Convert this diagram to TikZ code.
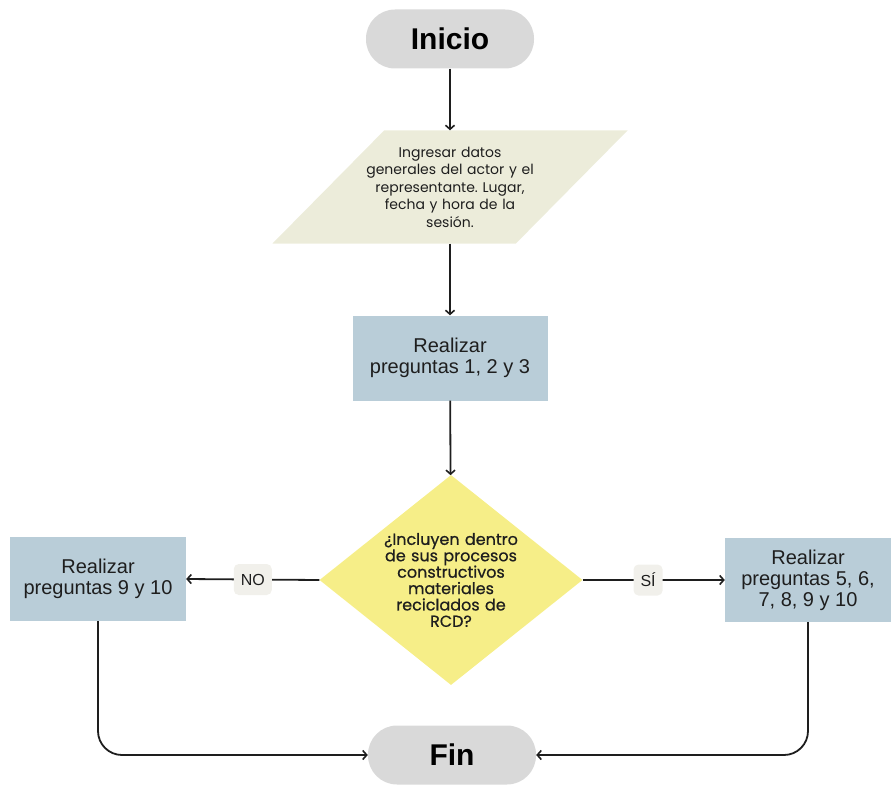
\documentclass[tikz,border=0pt]{standalone}
\usepackage{fontspec}
\setmainfont{Liberation Sans}
\newfontfamily\popfont{Poppins}
\newfontfamily\popbold{Poppins}[FakeBold=0.6]
\usetikzlibrary{shapes.geometric,arrows.meta,calc,backgrounds}
\frenchspacing

\definecolor{pillgray}{HTML}{D9D9D9}
\definecolor{inputbeige}{HTML}{ECECDA}
\definecolor{boxblue}{HTML}{B9CDD8}
\definecolor{decyellow}{HTML}{F6EE88}
\definecolor{tagbg}{HTML}{F1F0EB}
\definecolor{ink}{HTML}{1E1E1E}

\begin{document}
\begin{tikzpicture}[x=1pt,y=-1pt,
  pill/.style={rectangle,rounded corners=29pt,fill=pillgray,
    minimum width=168pt,minimum height=59pt,inner sep=0pt,
    font=\fontsize{30}{30}\selectfont\bfseries,text=black},
  procbox/.style={rectangle,fill=boxblue,align=center,inner sep=0pt,
    font=\fontsize{20}{21}\selectfont,text=ink},
  inputtext/.style={rectangle,align=center,inner sep=0pt,
    minimum width=243pt,minimum height=113pt,text width=210pt,
    font=\popfont\fontsize{14}{17.5}\selectfont,text=ink},
  decision/.style={diamond,fill=decyellow,aspect=1.25,inner sep=0pt,
    minimum width=263pt,minimum height=210pt,text width=140pt,align=center,
    font=\popbold\fontsize{16}{16.4}\selectfont,text=ink},
  link/.style={draw=ink,line width=1.8pt,
    -{Straight Barb[length=4pt,width=9pt,line width=1.6pt]}},
  tag/.style={fill=tagbg,rounded corners=5pt,inner xsep=7pt,
    minimum height=31pt,font=\fontsize{16}{16}\selectfont,text=ink}]

\useasboundingbox (0,0) rectangle (891,784);

% nodes
\node[pill] (inicio) at (450,39) {Inicio};
\node[inputtext] (ingreso) at (450,187)
  {Ingresar datos\\generales del actor y el\\representante. Lugar,\\fecha y hora de la\\sesión.};
\begin{scope}[on background layer]
  \fill[inputbeige] ($(ingreso.north west)+(56,0)$) -- ($(ingreso.north east)+(56,0)$)
    -- ($(ingreso.south east)+(-56,0)$) -- ($(ingreso.south west)+(-56,0)$) -- cycle;
\end{scope}
\node[procbox,minimum width=195pt,minimum height=85pt] (preg13) at (450,358)
  {Realizar\\preguntas 1, 2 y 3};
\node[decision] (pregunta) at (451,580)
  {¿Incluyen dentro\\de sus procesos\\constructivos\\materiales\\reciclados de\\RCD?};
\node[procbox,minimum width=176pt,minimum height=84pt] (izq) at (98,579)
  {Realizar\\preguntas 9 y 10};
\node[procbox,minimum width=166pt,minimum height=84pt] (der) at (808,580)
  {Realizar\\preguntas 5, 6,\\7, 8, 9 y 10};
\node[pill] (fin) at (452,755) {Fin};

% connectors
\draw[link] (inicio) -- (ingreso);
\draw[link] (ingreso) -- (preg13);
\draw[link] (preg13) -- (pregunta);
\draw[link] (pregunta.west) -- node[tag]{NO} (izq.east);
\draw[link] (pregunta.east) -- node[tag,pos=0.46]{SÍ} (der.west);
\draw[link,rounded corners=24pt] (izq.south) |- (fin.west);
\draw[link,rounded corners=24pt] (der.south) |- (fin.east);
\end{tikzpicture}
\end{document}
